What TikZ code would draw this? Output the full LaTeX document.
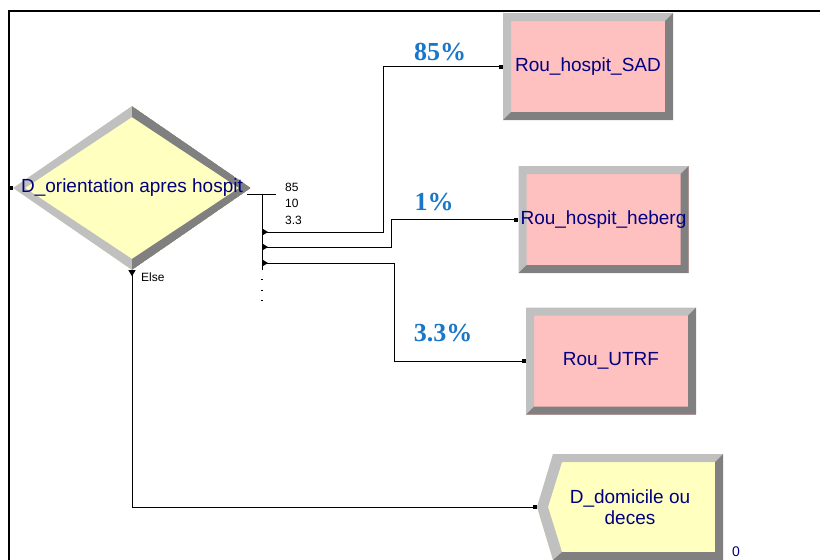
\documentclass[tikz,border=0pt]{standalone}
\usepackage{fontspec}
\setmainfont{Liberation Sans}
\newfontfamily\pctfont{Liberation Serif}
\usetikzlibrary{arrows.meta,shapes.geometric}

\definecolor{arenanavy}{RGB}{0,0,128}
\definecolor{pctblue}{RGB}{25,118,200}
\definecolor{bevlite}{RGB}{192,192,192}
\definecolor{bevdark}{RGB}{128,128,128}
\definecolor{decidefill}{RGB}{255,255,192}
\definecolor{routefill}{RGB}{255,192,192}

\begin{document}
\begin{tikzpicture}[
  x=1pt,y=-1pt,
  route/.style={rectangle,inner sep=0pt,minimum width=170pt,minimum height=107pt,fill=routefill,font=\fontsize{19}{22}\selectfont,text=arenanavy,
    path picture={
      \fill[bevlite] (path picture bounding box.south west) |- (path picture bounding box.north east) -- ++(-8pt,-8pt) -| ([shift={(8pt,8pt)}]path picture bounding box.south west) -- cycle;
      \fill[bevdark] (path picture bounding box.south west) -| (path picture bounding box.north east) -- ++(-8pt,-8pt) |- ([shift={(8pt,8pt)}]path picture bounding box.south west) -- cycle;}},
  decide/.style={diamond,inner sep=0pt,minimum width=238pt,minimum height=164pt,fill=decidefill,font=\fontsize{19}{22}\selectfont,text=arenanavy,
    path picture={
      \fill[bevlite] (path picture bounding box.west) -- (path picture bounding box.north) -- ([yshift=-11pt]path picture bounding box.north) -- ([xshift=12pt]path picture bounding box.west) -- ([yshift=11pt]path picture bounding box.south) -- (path picture bounding box.south) -- cycle;
      \fill[bevdark] (path picture bounding box.east) -- (path picture bounding box.north) -- ([yshift=-11pt]path picture bounding box.north) -- ([xshift=-12pt]path picture bounding box.east) -- ([yshift=11pt]path picture bounding box.south) -- (path picture bounding box.south) -- cycle;}},
  dispose/.style={rectangle,inner sep=0pt,minimum width=186pt,minimum height=106pt,align=center,font=\fontsize{19}{21}\selectfont,text=arenanavy,
    path picture={
      \path (path picture bounding box.south west) coordinate (dsw) (path picture bounding box.north east) coordinate (dne)
        (path picture bounding box.north west) coordinate (dnw) (path picture bounding box.south east) coordinate (dse);
      \fill[decidefill] ([yshift=53pt]dsw) -- ([xshift=16pt]dnw) -- (dne) -- (dse) -- ([xshift=16pt]dsw) -- cycle;
      \fill[bevlite] ([yshift=53pt]dsw) -- ([xshift=16pt]dnw) -- (dne) -- ([shift={(-8pt,-8pt)}]dne) -- ([shift={(25pt,-8pt)}]dnw)
        -- ([shift={(11pt,53pt)}]dsw) -- ([shift={(25pt,8pt)}]dsw) -- ([xshift=16pt]dsw) -- cycle;
      \fill[bevdark] (dne) -- (dse) -- ([xshift=16pt]dsw) -- ([shift={(25pt,8pt)}]dsw) -- ([shift={(-8pt,8pt)}]dse) -- ([shift={(-8pt,-8pt)}]dne) -- cycle;}},
  pct/.style={font=\pctfont\bfseries\fontsize{26}{28}\selectfont,text=pctblue},
  tag/.style={font=\fontsize{12}{14}\selectfont,inner sep=0pt,anchor=west},
  wire/.style={line width=.9pt},
  branch/.style={wire,arrows={Triangle[reversed,length=6pt,width=7pt]-Square[length=4pt,width=4pt]}},
  pageframe/.style={line width=2pt}
]
\useasboundingbox (0,0) rectangle (820,560);
\draw[pageframe] (820,11) -- (9,11) -- (9,560);

\node[decide] (dor) at (132,188) {\makebox[0pt]{D\_orientation apres hospit}};
\node[route] (sad) at (588,66.5) {Rou\_hospit\_SAD};
\node[route] (heberg) at (603.5,219.5) {Rou\_hospit\_heberg};
\node[route] (utrf) at (611,361) {Rou\_UTRF};
\node[dispose] (domicile) at (630,507) {D\_domicile ou\\deces};

\fill ([shift={(-4pt,-2pt)}]dor.west) rectangle ++(4pt,4pt);

\coordinate (stub) at (247,194);
\coordinate (stubend) at (276,194);
\coordinate (fork) at (262,194);
\coordinate (forkend) at (262,270);
\coordinate (b1) at (262,232);
\coordinate (b2) at (262,247);
\coordinate (b3) at (262,263);
\coordinate (more) at (262,279);
\draw[wire] (stub) -- (stubend);
\draw[wire] (fork) -- (forkend);
\draw[line width=1.3pt,dash pattern=on 1.3pt off 9.2pt] (more) -- ++(0,22);

\node[tag] (r85) at (285,187) {85};
\node[tag] (r10) at (285,203) {10};
\node[tag] (r33) at (285,220) {3.3};
\node[tag] (else) at (141,277) {Else};

\draw[branch] (b1) -- (383,232) |- (sad.west);
\draw[branch] (b2) -- (391,247) |- (heberg.west);
\draw[branch] (b3) -- (394,263) |- (utrf.west);
\draw[branch] (dor.south) |- (domicile.west);

\node[pct] (p85) at (440,52) {85\%};
\node[pct] (p1) at (434,202) {1\%};
\node[pct] (p33) at (443,333) {3.3\%};

\node[tag,font=\fontsize{14}{14}\selectfont,text=arenanavy] (count) at (732,552) {0};
\end{tikzpicture}
\end{document}
